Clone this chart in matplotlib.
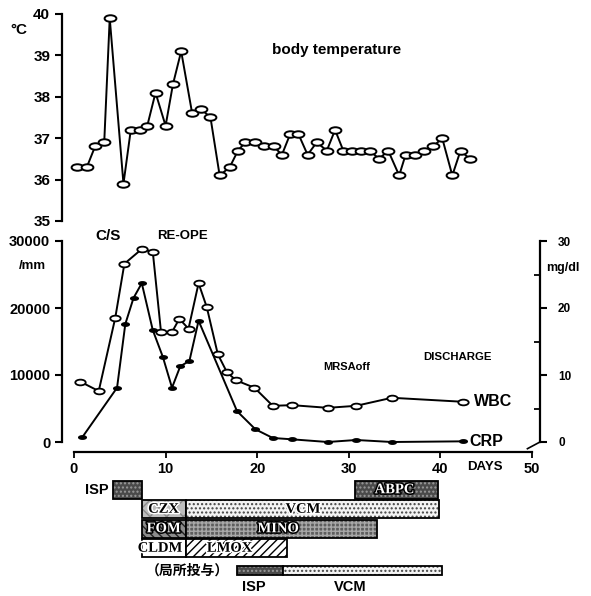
import numpy as np
import matplotlib.pyplot as plt
from matplotlib.path import Path
from matplotlib.transforms import Affine2D
import matplotlib.patheffects as pe

plt.rcParams['font.family'] = ['Liberation Sans', 'Noto Sans CJK JP', 'DejaVu Sans']
plt.rcParams['font.weight'] = 'bold'

# body temperature
temp_day = [0.3, 1.4, 2.3, 3.3, 3.9, 5.4, 6.2, 7.2, 8.0, 8.9, 10.0, 10.8, 11.7, 12.9, 13.9,
            14.9, 15.9, 17.0, 17.9, 18.7, 19.8, 20.7, 21.8, 22.7, 23.6, 24.5, 25.5, 26.5, 27.6,
            28.5, 29.4, 30.3, 31.3, 32.3, 33.3, 34.3, 35.5, 36.2, 37.2, 38.2, 39.2, 40.2, 41.3,
            42.2, 43.2]
temp_val = [36.3, 36.3, 36.8, 36.9, 39.9, 35.9, 37.2, 37.2, 37.3, 38.1, 37.3, 38.3, 39.1, 37.6,
            37.7, 37.5, 36.1, 36.3, 36.7, 36.9, 36.9, 36.8, 36.8, 36.6, 37.1, 37.1, 36.6, 36.9,
            36.7, 37.2, 36.7, 36.7, 36.7, 36.7, 36.5, 36.7, 36.1, 36.6, 36.6, 36.7, 36.8, 37.0,
            36.1, 36.7, 36.5]

# WBC (/mm3)
wbc_day = [0.7, 2.7, 4.5, 5.5, 7.4, 8.6, 9.5, 10.7, 11.5, 12.5, 13.6, 14.5, 15.7, 16.7, 17.7,
           19.7, 21.7, 23.8, 27.7, 30.8, 34.7, 42.5]
wbc_val = [9000, 7600, 18500, 26600, 28800, 28400, 16400, 16400, 18400, 16900, 23700, 20100,
           13100, 10400, 9200, 8100, 5400, 5500, 5100, 5400, 6600, 6000]

# CRP (mg/dl)
crp_day = [0.9, 4.7, 5.6, 6.5, 7.4, 8.6, 9.7, 10.7, 11.6, 12.6, 13.6, 17.8, 19.8, 21.7, 23.8,
           27.7, 30.8, 34.7, 42.5]
crp_val = [0.7, 8.1, 17.6, 21.5, 23.7, 16.7, 12.7, 8.1, 11.3, 12.1, 18.1, 4.6, 1.9, 0.6, 0.4,
           0.0, 0.3, 0.0, 0.1]

# antibiotics
drug_name = ['ISP', 'ABPC', 'CZX', 'VCM', 'FOM', 'MINO', 'CLDM', 'LMOX', 'ISP', 'VCM']
drug_start = [4.3, 30.7, 7.4, 12.2, 7.4, 12.2, 7.4, 12.2, 17.8, 22.8]
drug_end = [7.4, 39.7, 12.2, 39.8, 12.2, 33.1, 12.2, 23.2, 22.8, 40.2]
drug_row = [0, 0, 1, 1, 2, 2, 3, 3, 4, 4]

day_ticks = [0, 10, 20, 30, 40, 50]

W, H = 591, 596
def rect(l, t, r, b):
    return [l / W, 1 - b / H, (r - l) / W, (b - t) / H]
def px(x, y):
    return x / W, 1 - y / H

X0, X1 = (62 - 74) / 9.16, (540 - 74) / 9.16
ell = Path.unit_circle().transformed(Affine2D().scale(1, 0.55))
flat = Path.unit_circle().transformed(Affine2D().scale(1, 0.45))

fig = plt.figure(figsize=(W / 100, H / 100), dpi=100)

# ---- temperature
ax1 = fig.add_axes(rect(62, 14, 540, 221))
ax1.plot(temp_day, temp_val, color='black', lw=1.4, marker=ell, ms=8.5,
         mfc='white', mec='black', mew=1.4)
ax1.set_xlim(X0, X1)
ax1.set_ylim(35, 40)
ax1.set_yticks([35, 36, 37, 38, 39, 40])
for s in ['top', 'right', 'bottom']:
    ax1.spines[s].set_visible(False)
ax1.spines['left'].set_linewidth(1.6)
ax1.set_xticks([])
ax1.tick_params(axis='y', length=5, width=1.5, labelsize=11)
fig.text(*px(10, 30), '°C', fontsize=11, va='center')
fig.text(*px(272, 50), 'body temperature', fontsize=11, va='center')

# ---- WBC / CRP
ax2 = fig.add_axes(rect(62, 241, 540, 452))
ax3 = ax2.twinx()
ax2.plot(wbc_day, wbc_val, color='black', lw=1.4, marker=ell, ms=7.5,
         mfc='white', mec='black', mew=1.3)
ax3.plot(crp_day, crp_val, color='black', lw=1.4, marker=flat, ms=5.5,
         mfc='black', mec='black', mew=1.0)
ax2.set_xlim(X0, X1)
ax2.set_ylim(-30000 * 10 / 201, 30000)
ax3.set_ylim(-30 * 10 / 201, 30)
ax2.set_yticks([0, 10000, 20000, 30000])
ax3.set_yticks([0, 10, 20, 30])
ax3.set_yticks([5, 15, 25], minor=True)
ax2.set_xticks(day_ticks)
for a in (ax2, ax3):
    a.spines['top'].set_visible(False)
ax2.spines['right'].set_visible(False)
ax3.spines['left'].set_visible(False)
ax3.spines['bottom'].set_visible(False)
ax2.spines['left'].set_bounds(0, 30000)
ax2.spines['bottom'].set_bounds(0, 50)
ax3.spines['right'].set_bounds(0, 30)
for sp in (ax2.spines['left'], ax2.spines['bottom'], ax3.spines['right']):
    sp.set_linewidth(1.6)
ax2.tick_params(axis='y', length=5, width=1.5, labelsize=10.5)
ax2.tick_params(axis='x', length=4, width=1.3, labelsize=10.5, pad=3)
ax3.tick_params(axis='y', which='major', length=5, width=1.5, labelsize=8.5, pad=8)
ax3.tick_params(axis='y', which='minor', length=4, width=1.3, direction='in')
ax2.plot([49.5, 50.87], [-1000, 0], color='black', lw=1.2, clip_on=False)

fig.text(*px(95, 236), 'C/S', fontsize=11, va='center')
fig.text(*px(157, 236), 'RE-OPE', fontsize=9.5, va='center')
fig.text(*px(19, 266), '/mm', fontsize=9.5, va='center')
fig.text(*px(546, 268), 'mg/dl', fontsize=9, va='center')
fig.text(*px(323, 367), 'MRSAoff', fontsize=8, va='center')
fig.text(*px(423, 357), 'DISCHARGE', fontsize=8.2, va='center')
fig.text(*px(474, 401), 'WBC', fontsize=11.5, va='center')
fig.text(*px(469, 441), 'CRP', fontsize=11.5, va='center')
fig.text(*px(467, 467), 'DAYS', fontsize=9.5, va='center')

# ---- antibiotic bars
ax4 = fig.add_axes(rect(62, 480, 540, 596))
ax4.set_xlim(X0, X1)
ax4.set_ylim(5.45, -0.5)
ax4.axis('off')

style = {
    'ISP':  dict(fc='#4a4a4a', hatch='....', hc='#9a9a9a', label_fg='white'),
    'ABPC': dict(fc='#4a4a4a', hatch='....', hc='#9a9a9a', label_fg='white'),
    'CZX':  dict(fc='#bdbdbd', hatch='xx', hc='#8a8a8a', label_fg='black'),
    'VCM':  dict(fc='#f4f4f4', hatch='....', hc='#444444', label_fg='black'),
    'FOM':  dict(fc='#8c8c8c', hatch='\\\\\\\\', hc='#222222', label_fg='white'),
    'MINO': dict(fc='#5e5e5e', hatch='++++', hc='#a8a8a8', label_fg='white'),
    'CLDM': dict(fc='white', hatch='', hc='black', label_fg='black'),
    'LMOX': dict(fc='white', hatch='////', hc='black', label_fg='black'),
}
label_day = {'ABPC': 35.0, 'CZX': 9.8, 'VCM': 25.0, 'FOM': 9.8, 'MINO': 22.3,
             'CLDM': 9.4, 'LMOX': 17.0}

for name, s0, s1, r in zip(drug_name, drug_start, drug_end, drug_row):
    st = style[name]
    h = 0.45 if r == 4 else 0.92
    yc = 4.15 if r == 4 else r
    ax4.barh(yc, s1 - s0, left=s0, height=h, color=st['fc'], edgecolor='none')
    if st['hatch']:
        ax4.barh(yc, s1 - s0, left=s0, height=h, fill=False, hatch=st['hatch'],
                 edgecolor=st['hc'], linewidth=0)
    ax4.barh(yc, s1 - s0, left=s0, height=h, fill=False, edgecolor='black', linewidth=1.3)
    if r < 4 and name in label_day:
        fg = st['label_fg']
        bg = 'black' if fg == 'white' else 'white'
        ax4.text(label_day[name], yc, name, ha='center', va='center', fontsize=10.5,
                 family=['Liberation Serif'], color=fg,
                 path_effects=[pe.withStroke(linewidth=2.2, foreground=bg)])

ax4.text(drug_start[0] - 0.5, 0, 'ISP', ha='right', va='center', fontsize=10.5)
ax4.text(drug_start[8] - 0.9, 4.15, '（局所投与）', ha='right', va='center', fontsize=10,
         family=['Noto Sans CJK JP'])
ax4.text(19.6, 5.0, 'ISP', ha='center', va='center', fontsize=10.5)
ax4.text(30.2, 5.0, 'VCM', ha='center', va='center', fontsize=10.5)

fig.savefig('out.png', dpi=100)
